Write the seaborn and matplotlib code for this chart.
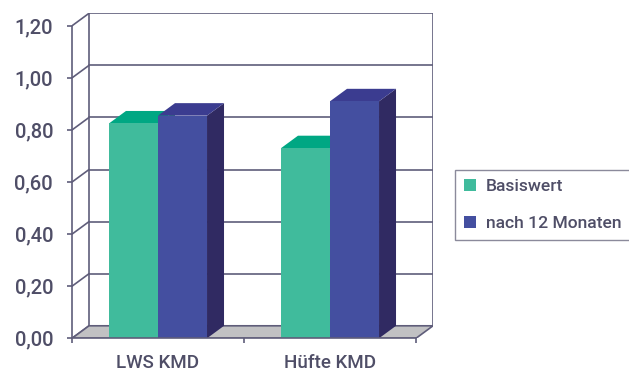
import numpy as np
import pandas as pd
import seaborn as sns
import matplotlib.pyplot as plt
from matplotlib.patches import Polygon, Patch

# data
categories = ["LWS KMD", "Hüfte KMD"]
series = ["Basiswert", "nach 12 Monaten"]
basis_values = [0.825, 0.73]
month12_values = [0.855, 0.91]
y_ticks = [0.0, 0.2, 0.4, 0.6, 0.8, 1.0, 1.2]
y_tick_labels = ["0,00", "0,20", "0,40", "0,60", "0,80", "1,00", "1,20"]

df = pd.DataFrame({
    "Kategorie": categories * 2,
    "Serie": [series[0]] * 2 + [series[1]] * 2,
    "Wert": basis_values + month12_values,
})

# colours: front face, top face, side face
front_cols = ["#40bb9c", "#444fa0"]
top_cols = ["#00a783", "#3b3c90"]
side_cols = ["#2a8f75", "#302a62"]
line_col = "#5f5d7a"
text_col = "#4f4e67"

sns.set_style("white")
plt.rcParams["font.family"] = ["Roboto", "DejaVu Sans"]
plt.rcParams["font.weight"] = "medium"

W, H = 629, 372
fig = plt.figure(figsize=(W / 100, H / 100), dpi=100)

# pixel frame of the pseudo-3d chart
x_front_left, x_front_right = 72, 416
y_zero, y_top = 338.3, 25.8
dx_px, dy_px = 17, 12.5
px_per_cat = (x_front_right - x_front_left) / 2
px_per_unit = (y_zero - y_top) / 1.2
dx = dx_px / px_per_cat
dy = dy_px / px_per_unit

ax = fig.add_axes([x_front_left / W, (H - y_zero) / H,
                   (x_front_right + dx_px - x_front_left) / W,
                   (y_zero - (y_top - dy_px)) / H])

sns.barplot(data=df, x="Kategorie", y="Wert", hue="Serie", order=categories,
            hue_order=series, palette=front_cols, width=0.57, gap=0,
            saturation=1, edgecolor="none", linewidth=0, legend=False, ax=ax)
ax.set_xlim(-0.5, 1.5 + dx)
ax.set_ylim(0, 1.2 + dy)

for s in ax.spines.values():
    s.set_visible(False)

lw = 1.2
# floor
ax.add_patch(Polygon([(-0.5, 0), (1.5, 0), (1.5 + dx, dy), (-0.5 + dx, dy)],
                     closed=True, facecolor="#c1c1c3", edgecolor=line_col,
                     linewidth=lw, zorder=1))
# back wall grid and left side lines
for v in y_ticks[1:]:
    ax.plot([-0.5 + dx, 1.5 + dx], [v + dy, v + dy], color=line_col, lw=lw, zorder=0.5)
for v in y_ticks:
    ax.plot([-0.5, -0.5 + dx], [v, v + dy], color=line_col, lw=lw, zorder=0.5)
ax.plot([-0.5 + dx, -0.5 + dx], [dy, 1.2 + dy], color=line_col, lw=lw, zorder=0.5)
ax.plot([1.5 + dx, 1.5 + dx], [dy, 1.2 + dy], color=line_col, lw=lw, zorder=0.5)

# 3d tops and sides for the bars
bars = []
for i, cont in enumerate(ax.containers):
    for p in cont.patches:
        bars.append((p.get_x(), p, i))
bars.sort(key=lambda b: b[0])
for k, (x0, p, i) in enumerate(bars):
    w = p.get_width()
    h = p.get_height()
    ax.add_patch(Polygon([(x0 + w, 0), (x0 + w + dx, dy), (x0 + w + dx, h + dy), (x0 + w, h)],
                         closed=True, facecolor=side_cols[i], edgecolor="none", zorder=2 + k * 0.1))
    ax.add_patch(Polygon([(x0, h), (x0 + dx, h + dy), (x0 + w + dx, h + dy), (x0 + w, h)],
                         closed=True, facecolor=top_cols[i], edgecolor="none", zorder=2.05 + k * 0.1))
    p.set_zorder(5)

# front axis lines
ax.plot([-0.5, -0.5], [0, 1.2], color=line_col, lw=lw, zorder=6, clip_on=False)
ax.plot([-0.5, 1.5], [0, 0], color=line_col, lw=lw, zorder=6, clip_on=False)

ax.set_yticks(y_ticks)
ax.set_yticklabels(y_tick_labels)
ax.set_xticks([0, 1])
ax.set_xticklabels(categories)
ax.set_xticks([-0.5, 0.5, 1.5], minor=True)
ax.tick_params(axis="y", which="both", left=True, length=3.6, width=lw, color=line_col,
               pad=10, labelsize=14.5, labelcolor=text_col, direction="out")
ax.tick_params(axis="x", which="major", length=0, pad=11.5, labelsize=13.5, labelcolor=text_col)
ax.tick_params(axis="x", which="minor", bottom=True, length=3.6, width=lw, color=line_col,
               direction="out")
ax.set_xlabel("")
ax.set_ylabel("")
ax.grid(False)

handles = [Patch(facecolor=c, edgecolor="none") for c in front_cols]
leg = fig.legend(handles, series, loc="upper left",
                 bbox_to_anchor=(455 / W, 1 - 170 / H), frameon=True, fancybox=False,
                 fontsize=12.6, labelcolor=text_col, handlelength=0.72, handleheight=0.72,
                 handletextpad=0.55, labelspacing=1.25, borderpad=0.5, borderaxespad=0)
leg.get_frame().set_edgecolor("#6e6d82")
leg.get_frame().set_linewidth(1.0)

fig.savefig("out.png", dpi=100)
